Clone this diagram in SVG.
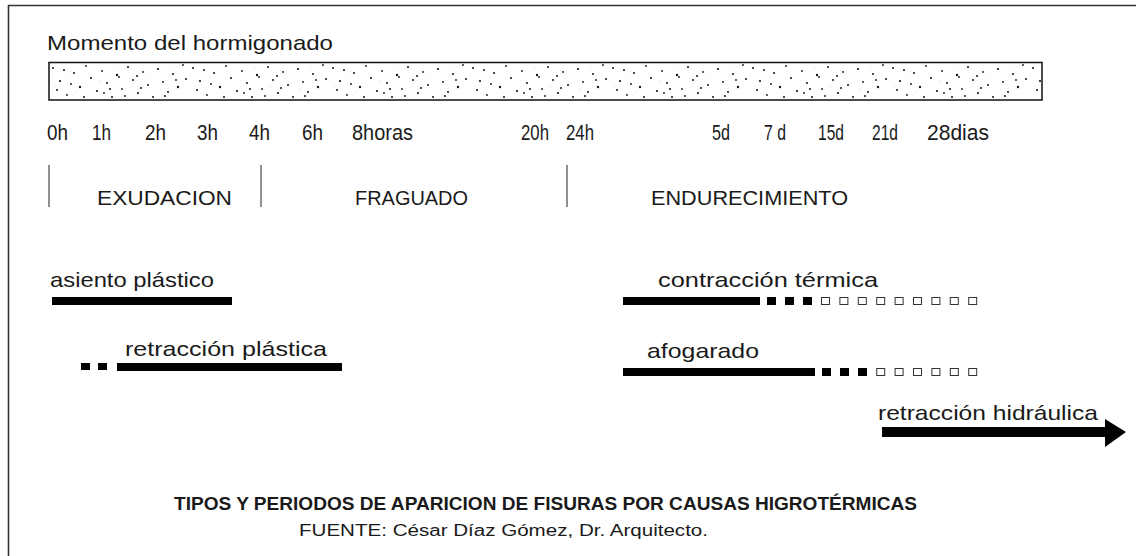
<svg xmlns="http://www.w3.org/2000/svg" width="1136" height="556" viewBox="0 0 1136 556">
<style>
.t{font-family:"Liberation Sans",Arial,sans-serif;fill:#1a1a1a;}
.lbl{font-size:22px;}
.ph{font-size:20px;}
.sep{stroke:#555;stroke-width:1.3;}
.bar{fill:#000;}
.hol{fill:#fff;stroke:#333;stroke-width:1;}
</style>
<defs>
<pattern id="sp" x="49" y="62" width="140" height="38" patternUnits="userSpaceOnUse">
<g fill="#111">
<circle cx="4" cy="6" r="1"/><circle cx="11" cy="19" r="1.1"/><circle cx="18" cy="33" r="0.9"/><circle cx="25" cy="11" r="1"/><circle cx="31" cy="25" r="1.2"/><circle cx="37" cy="4" r="0.9"/><circle cx="42" cy="16" r="1"/><circle cx="48" cy="29" r="1.1"/><circle cx="53" cy="9" r="0.9"/><circle cx="58" cy="21" r="1"/><circle cx="63" cy="35" r="1"/><circle cx="68" cy="13" r="1.2"/><circle cx="73" cy="27" r="0.9"/><circle cx="79" cy="5" r="1"/><circle cx="84" cy="18" r="1"/><circle cx="89" cy="31" r="1.1"/><circle cx="94" cy="10" r="0.9"/><circle cx="99" cy="23" r="1"/><circle cx="104" cy="35" r="1"/><circle cx="109" cy="7" r="1.1"/><circle cx="114" cy="20" r="0.9"/><circle cx="119" cy="30" r="1"/><circle cx="124" cy="12" r="1"/><circle cx="129" cy="25" r="1.2"/><circle cx="134" cy="3" r="0.9"/><circle cx="137" cy="17" r="1"/><circle cx="8" cy="28" r="1"/><circle cx="22" cy="22" r="0.9"/><circle cx="35" cy="35" r="1"/><circle cx="61" cy="27" r="1"/><circle cx="76" cy="34" r="0.9"/><circle cx="88" cy="14" r="1"/><circle cx="116" cy="34" r="1"/><circle cx="127" cy="18" r="0.9"/><circle cx="15" cy="8" r="1"/><circle cx="55" cy="31" r="0.9"/><circle cx="92" cy="26" r="1"/><circle cx="70" cy="15" r="0.9"/>
</g>
<g fill="#ccc">
<circle cx="6" cy="24" r="0.5"/><circle cx="27" cy="30" r="0.5"/><circle cx="40" cy="10" r="0.5"/><circle cx="66" cy="6" r="0.5"/><circle cx="82" cy="25" r="0.5"/><circle cx="97" cy="16" r="0.5"/><circle cx="111" cy="27" r="0.5"/><circle cx="122" cy="5" r="0.5"/><circle cx="51" cy="19" r="0.5"/><circle cx="20" cy="15" r="0.5"/>
</g>
</pattern>
</defs>
<rect width="1136" height="556" fill="#fff"/>
<path d="M8.5 556 V5.5 H1136" fill="none" stroke="#333" stroke-width="1.6"/>

<g id="timeline">
<text class="t" x="47" y="50" font-size="21" textLength="286" lengthAdjust="spacingAndGlyphs">Momento del hormigonado</text>
<rect x="49" y="62.5" width="993" height="37.5" fill="url(#sp)" stroke="#111" stroke-width="1.5"/>
</g>

<g id="ticks" class="t lbl">
<text x="47" y="140" textLength="21" lengthAdjust="spacingAndGlyphs">0h</text>
<text x="92" y="140" textLength="19" lengthAdjust="spacingAndGlyphs">1h</text>
<text x="145" y="140" textLength="21" lengthAdjust="spacingAndGlyphs">2h</text>
<text x="197" y="140" textLength="21" lengthAdjust="spacingAndGlyphs">3h</text>
<text x="249" y="140" textLength="21" lengthAdjust="spacingAndGlyphs">4h</text>
<text x="302" y="140" textLength="21" lengthAdjust="spacingAndGlyphs">6h</text>
<text x="352" y="140" textLength="61" lengthAdjust="spacingAndGlyphs">8horas</text>
<text x="521" y="140" textLength="28" lengthAdjust="spacingAndGlyphs">20h</text>
<text x="566" y="140" textLength="28" lengthAdjust="spacingAndGlyphs">24h</text>
<text x="712" y="140" textLength="18" lengthAdjust="spacingAndGlyphs">5d</text>
<text x="764" y="140" textLength="22" lengthAdjust="spacingAndGlyphs">7 d</text>
<text x="818" y="140" textLength="26" lengthAdjust="spacingAndGlyphs">15d</text>
<text x="872" y="140" textLength="26" lengthAdjust="spacingAndGlyphs">21d</text>
<text x="927" y="140" textLength="62" lengthAdjust="spacingAndGlyphs">28dias</text>
</g>

<g id="phases">
<line class="sep" x1="49" y1="165" x2="49" y2="207"/>
<line class="sep" x1="261" y1="165" x2="261" y2="207"/>
<line class="sep" x1="567" y1="165" x2="567" y2="207"/>
<text class="t ph" x="97" y="205" textLength="135" lengthAdjust="spacingAndGlyphs">EXUDACION</text>
<text class="t ph" x="355" y="205" textLength="113" lengthAdjust="spacingAndGlyphs">FRAGUADO</text>
<text class="t ph" x="651" y="205" textLength="197" lengthAdjust="spacingAndGlyphs">ENDURECIMIENTO</text>
</g>

<g id="asiento">
<text class="t" x="50" y="287" font-size="21" textLength="164" lengthAdjust="spacingAndGlyphs">asiento plástico</text>
<rect class="bar" x="52" y="297" width="180" height="8"/>
</g>

<g id="retraccion-plastica">
<text class="t" x="125" y="356" font-size="21" textLength="202" lengthAdjust="spacingAndGlyphs">retracción plástica</text>
<rect class="bar" x="81" y="363" width="9" height="7"/>
<rect class="bar" x="98" y="363" width="9" height="7"/>
<rect class="bar" x="117" y="363" width="225" height="8"/>
</g>

<g id="contraccion-termica">
<text class="t" x="658" y="287" font-size="21" textLength="220" lengthAdjust="spacingAndGlyphs">contracción térmica</text>
<rect class="bar" x="623" y="297" width="137" height="8"/>
<rect class="bar" x="767" y="297" width="9" height="8"/>
<rect class="bar" x="785" y="297" width="9" height="8"/>
<rect class="bar" x="803" y="297" width="9" height="8"/>
<rect class="hol" x="821.5" y="297.5" width="8" height="7"/>
<rect class="hol" x="839.9" y="297.5" width="8" height="7"/>
<rect class="hol" x="858.3" y="297.5" width="8" height="7"/>
<rect class="hol" x="876.7" y="297.5" width="8" height="7"/>
<rect class="hol" x="895.1" y="297.5" width="8" height="7"/>
<rect class="hol" x="913.5" y="297.5" width="8" height="7"/>
<rect class="hol" x="931.9" y="297.5" width="8" height="7"/>
<rect class="hol" x="950.3" y="297.5" width="8" height="7"/>
<rect class="hol" x="968.7" y="297.5" width="8" height="7"/>
</g>

<g id="afogarado">
<text class="t" x="647" y="358" font-size="21" textLength="112" lengthAdjust="spacingAndGlyphs">afogarado</text>
<rect class="bar" x="623" y="368" width="192" height="8"/>
<rect class="bar" x="822" y="368" width="9" height="8"/>
<rect class="bar" x="840" y="368" width="9" height="8"/>
<rect class="bar" x="858" y="368" width="9" height="8"/>
<rect class="hol" x="876.7" y="368.5" width="8" height="7"/>
<rect class="hol" x="895.1" y="368.5" width="8" height="7"/>
<rect class="hol" x="913.5" y="368.5" width="8" height="7"/>
<rect class="hol" x="931.9" y="368.5" width="8" height="7"/>
<rect class="hol" x="950.3" y="368.5" width="8" height="7"/>
<rect class="hol" x="968.7" y="368.5" width="8" height="7"/>
</g>

<g id="retraccion-hidraulica">
<text class="t" x="878" y="420" font-size="21" textLength="220" lengthAdjust="spacingAndGlyphs">retracción hidráulica</text>
<polygon class="bar" points="882,427 1105,427 1105,419 1126,432 1105,447 1105,437 882,437"/>
</g>

<g id="caption">
<text class="t" x="545.5" y="510" font-size="18" font-weight="bold" text-anchor="middle" textLength="743" lengthAdjust="spacingAndGlyphs">TIPOS Y PERIODOS DE APARICION DE FISURAS POR CAUSAS HIGROTÉRMICAS</text>
<text class="t" x="503.5" y="536" font-size="16" text-anchor="middle" textLength="409" lengthAdjust="spacingAndGlyphs">FUENTE: César Díaz Gómez, Dr. Arquitecto.</text>
</g>
</svg>
